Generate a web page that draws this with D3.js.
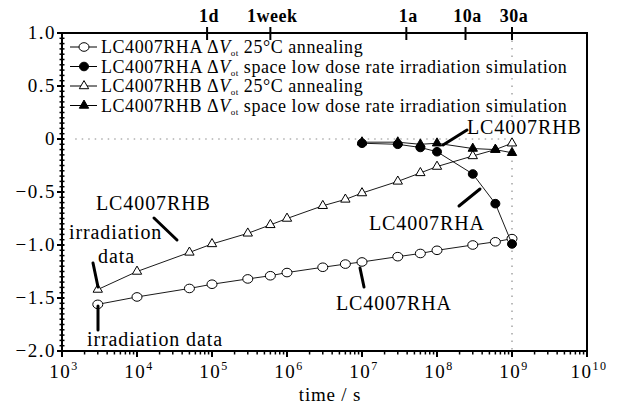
<!DOCTYPE html>
<html lang="en">
<head>
<meta charset="UTF-8">
<title>LC4007 dVot annealing</title>
<script src="https://d3js.org/d3.v7.min.js"></script>
<style>
    body { margin: 0; background: #fff; }
    svg { display: block; font-family: "Liberation Serif", "DejaVu Serif", "Times New Roman", serif; }
    text { fill: #000; }
    .tick-label { font-size: 19px; letter-spacing: 1.5px; }
    .axis-title { font-size: 19px; letter-spacing: 0.8px; }
    .top-label { font-size: 18px; font-weight: bold; letter-spacing: 0.5px; }
    .legend-text { font-size: 18px; letter-spacing: 0.55px; }
    .note { font-size: 20px; letter-spacing: 0.9px; }
</style>
</head>
<body>
<svg width="624" height="410"></svg>
<script>
    // RHA 25°C annealing (open circles)
    const rhaAnnealT = [3e3, 1e4, 5e4, 1e5, 3e5, 6e5, 1e6, 3e6, 6e6, 1e7, 3e7, 6e7, 1e8, 3e8, 6e8, 1e9];
    const rhaAnnealV = [-1.56, -1.49, -1.41, -1.37, -1.32, -1.29, -1.26, -1.21, -1.18, -1.16, -1.11, -1.08, -1.05, -1.00, -0.97, -0.94];

    // RHA space low dose rate simulation (filled circles)
    const rhaSpaceT = [1e7, 3e7, 6e7, 1e8, 3e8, 6e8, 1e9];
    const rhaSpaceV = [-0.04, -0.05, -0.08, -0.12, -0.33, -0.61, -0.99];

    // RHB 25°C annealing (open triangles)
    const rhbAnnealT = [3e3, 1e4, 5e4, 1e5, 3e5, 6e5, 1e6, 3e6, 6e6, 1e7, 3e7, 6e7, 1e8, 3e8, 6e8, 1e9];
    const rhbAnnealV = [-1.42, -1.25, -1.07, -0.99, -0.89, -0.81, -0.75, -0.63, -0.57, -0.51, -0.40, -0.32, -0.26, -0.16, -0.10, -0.04];

    // RHB space low dose rate simulation (filled triangles)
    const rhbSpaceT = [1e7, 3e7, 6e7, 1e8, 3e8, 6e8, 1e9];
    const rhbSpaceV = [-0.03, -0.03, -0.05, -0.04, -0.09, -0.10, -0.13];

    const yTicks = [1.0, 0.5, 0, -0.5, -1.0, -1.5, -2.0];
    const xDecades = [3, 4, 5, 6, 7, 8, 9, 10];
    const topLabels = ["1d", "1week", "1a", "10a", "30a"];
    const topTimes = [8.6e4, 6.0e5, 3.9e7, 2.4e8, 1.0e9];

    const svg = d3.select("svg");
    const x = d3.scaleLog().domain([1e3, 1e10]).range([62, 587]);
    const y = d3.scaleLinear().domain([-2, 1]).range([351, 33]);

    const zip = (ts, vs) => ts.map((t, i) => ({ t, v: vs[i] }));
    const line = d3.line().x(d => x(d.t)).y(d => y(d.v));

    // dotted reference lines
    svg.append("line")
        .attr("x1", x(1e9)).attr("x2", x(1e9))
        .attr("y1", y(1)).attr("y2", y(-2))
        .attr("stroke", "#777").attr("stroke-width", 1)
        .attr("stroke-dasharray", "1.5,6");
    svg.append("line")
        .attr("x1", x(1.5e3)).attr("x2", x(1e9))
        .attr("y1", y(0)).attr("y2", y(0))
        .attr("stroke", "#888").attr("stroke-width", 1)
        .attr("stroke-dasharray", "1.5,5");

    // frame
    svg.append("rect")
        .attr("x", x(1e3)).attr("y", y(1))
        .attr("width", x(1e10) - x(1e3)).attr("height", y(-2) - y(1))
        .attr("fill", "none").attr("stroke", "#000").attr("stroke-width", 2);

    // y axis ticks
    const yAxis = svg.append("g");
    d3.range(-2, 1.0001, 0.05).forEach(v => {
        const major = Math.abs(v * 2 - Math.round(v * 2)) < 1e-6;
        yAxis.append("line")
            .attr("x1", x(1e3) - (major ? 5 : 2.5)).attr("x2", x(1e3) + 2.5)
            .attr("y1", y(v)).attr("y2", y(v))
            .attr("stroke", "#000").attr("stroke-width", major ? 2 : 1.5);
    });
    yAxis.selectAll("text.tick-label")
        .data(yTicks)
        .join("text")
        .attr("class", "tick-label")
        .attr("x", 56).attr("y", d => y(d) + 6)
        .attr("text-anchor", "end")
        .text(d => d === 0 ? "0" : (d < 0 ? "\u2212" : "") + Math.abs(d).toFixed(1));

    // x axis ticks (bottom)
    const xAxis = svg.append("g");
    xDecades.forEach(e => {
        xAxis.append("line")
            .attr("x1", x(10 ** e)).attr("x2", x(10 ** e))
            .attr("y1", y(-2)).attr("y2", y(-2) + 6)
            .attr("stroke", "#000").attr("stroke-width", 2);
        if (e < 10) {
            for (let k = 2; k < 10; k++) {
                xAxis.append("line")
                    .attr("x1", x(k * 10 ** e)).attr("x2", x(k * 10 ** e))
                    .attr("y1", y(-2)).attr("y2", y(-2) + 3.5)
                    .attr("stroke", "#000").attr("stroke-width", 1.5);
            }
        }
        const t = xAxis.append("text")
            .attr("class", "tick-label")
            .attr("x", x(10 ** e) + 2).attr("y", 378)
            .attr("text-anchor", "middle");
        t.append("tspan").text("10");
        t.append("tspan").attr("dy", -8).attr("font-size", 12).text(e);
    });
    svg.append("text")
        .attr("class", "axis-title")
        .attr("x", 330).attr("y", 401)
        .attr("text-anchor", "middle")
        .text("time / s");

    // top axis
    const topAxis = svg.append("g");
    topTimes.forEach((t, i) => {
        topAxis.append("line")
            .attr("x1", x(t)).attr("x2", x(t))
            .attr("y1", y(1) - 6).attr("y2", y(1) + 7)
            .attr("stroke", "#000").attr("stroke-width", 2);
        topAxis.append("text")
            .attr("class", "top-label")
            .attr("x", x(t) + 2).attr("y", 22)
            .attr("text-anchor", "middle")
            .text(topLabels[i]);
    });

    // series
    const series = [
        { data: zip(rhaAnnealT, rhaAnnealV), shape: "circle", fill: "#fff" },
        { data: zip(rhaSpaceT, rhaSpaceV), shape: "circle", fill: "#000" },
        { data: zip(rhbAnnealT, rhbAnnealV), shape: "triangle", fill: "#fff" },
        { data: zip(rhbSpaceT, rhbSpaceV), shape: "triangle", fill: "#000" }
    ];

    function drawMarker(g, shape, fill, cx, cy) {
        if (shape === "circle") {
            g.append("ellipse")
                .attr("cx", cx).attr("cy", cy)
                .attr("rx", fill === "#000" ? 4.5 : 5).attr("ry", 4.3)
                .attr("fill", fill).attr("stroke", "#000").attr("stroke-width", 1);
        } else {
            g.append("path")
                .attr("d", d3.symbol(d3.symbolTriangle, 38)())
                .attr("transform", `translate(${cx},${cy})`)
                .attr("fill", fill).attr("stroke", "#000").attr("stroke-width", 1);
        }
    }

    series.forEach(s => {
        const g = svg.append("g");
        g.append("path")
            .datum(s.data)
            .attr("d", line)
            .attr("fill", "none").attr("stroke", "#000").attr("stroke-width", 0.9);
        s.data.forEach(d => drawMarker(g, s.shape, s.fill, x(d.t), y(d.v)));
    });

    // legend
    const legendRows = [
        { id: "RHA", rest: " 25\u00b0C annealing" },
        { id: "RHA", rest: " space low dose rate irradiation simulation" },
        { id: "RHB", rest: " 25\u00b0C annealing" },
        { id: "RHB", rest: " space low dose rate irradiation simulation" }
    ];
    const legend = svg.append("g");
    legendRows.forEach((r, i) => {
        const ly = 47 + i * 19.5;
        legend.append("line")
            .attr("x1", 70).attr("x2", 97).attr("y1", ly).attr("y2", ly)
            .attr("stroke", "#000").attr("stroke-width", 1);
        drawMarker(legend, series[i].shape, series[i].fill, 84, ly);
        const t = legend.append("text")
            .attr("class", "legend-text")
            .attr("x", 101).attr("y", ly + 6);
        t.append("tspan").text("LC4007" + r.id + " \u0394");
        t.append("tspan").attr("font-style", "italic").text("V");
        t.append("tspan").attr("dy", 3).attr("font-size", 9).text("ot");
        t.append("tspan").attr("dy", -3).text(r.rest);
    });

    // annotations
    const notes = [
        { text: "LC4007RHB", x: 96, y: 210 },
        { text: "irradiation", x: 69, y: 239 },
        { text: "data", x: 98, y: 263 },
        { text: "irradiation data", x: 87, y: 346 },
        { text: "LC4007RHA", x: 336, y: 310 },
        { text: "LC4007RHA", x: 369, y: 230 },
        { text: "LC4007RHB", x: 467, y: 134 }
    ];
    svg.selectAll("text.note")
        .data(notes)
        .join("text")
        .attr("class", "note")
        .attr("x", d => d.x).attr("y", d => d.y)
        .text(d => d.text);

    const arrows = [
        [154, 218, 177, 240],
        [93, 263, 98, 287],
        [98, 306, 98, 330],
        [360, 268, 364, 287],
        [459, 206, 480, 189],
        [443, 145, 467, 130]
    ];
    svg.selectAll("line.arrow")
        .data(arrows)
        .join("line")
        .attr("class", "arrow")
        .attr("x1", d => d[0]).attr("y1", d => d[1])
        .attr("x2", d => d[2]).attr("y2", d => d[3])
        .attr("stroke", "#000").attr("stroke-width", 3)
        .attr("stroke-linecap", "round");
</script>
</body>
</html>
